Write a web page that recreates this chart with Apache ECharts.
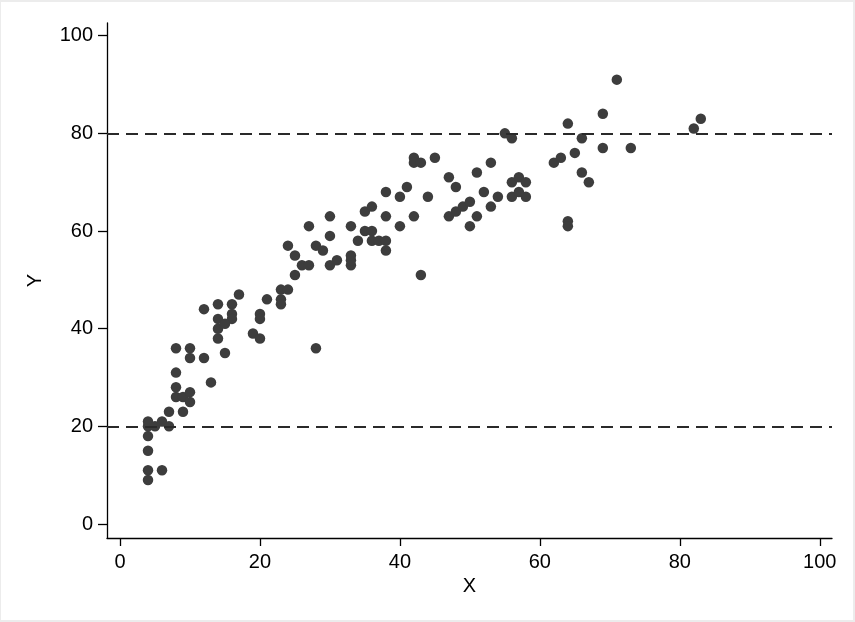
<!DOCTYPE html>
<html>
<head>
<meta charset="utf-8">
<title>Scatter</title>
<script src="https://cdn.jsdelivr.net/npm/echarts@6/dist/echarts.min.js"></script>
<style>
    html, body { margin: 0; padding: 0; background: #fff; }
    #myChart {
        width: 855px; height: 622px; box-sizing: border-box;
        border-top: 2px solid #ececec; border-left: 1px solid #ececec;
        border-right: 2px solid #ececec; border-bottom: 2px solid #ececec;
    }
</style>
</head>
<body>
<div id="myChart"></div>
<script>
// points, as [x, y]
var pts_low = [
    [4, 9], [4, 11], [6, 11], [4, 15], [4, 18], [4, 20], [4, 21], [5, 20], [6, 21], [7, 20],
    [7, 23], [9, 23], [8, 26], [9, 26], [10, 27], [10, 25], [8, 28], [8, 31], [13, 29], [8, 36],
    [10, 36], [10, 34], [12, 34], [15, 35], [12, 44], [14, 45], [16, 45], [16, 43], [16, 42], [14, 42],
    [14, 40], [15, 41], [14, 38], [17, 47], [19, 39], [20, 38], [20, 43], [20, 42], [21, 46]
];
var pts_mid = [
    [23, 48], [23, 46], [23, 45], [24, 48], [25, 51], [26, 53], [27, 53], [25, 55], [24, 57], [27, 61],
    [28, 57], [29, 56], [30, 53], [31, 54], [30, 59], [30, 63], [33, 53], [33, 54], [33, 55], [33, 61],
    [34, 58], [35, 60], [36, 60], [36, 58], [37, 58], [38, 58], [38, 56], [35, 64], [36, 65], [38, 63],
    [38, 68], [40, 67], [41, 69], [40, 61], [42, 63], [43, 51], [44, 67], [28, 36]
];
var pts_high = [
    [42, 75], [42, 74], [43, 74], [45, 75], [47, 71], [48, 69], [51, 72], [53, 74], [47, 63], [48, 64],
    [49, 65], [50, 66], [50, 61], [51, 63], [52, 68], [53, 65], [54, 67], [56, 70], [56, 67], [57, 71],
    [58, 70], [58, 67], [57, 68], [55, 80], [56, 79],
    [62, 74], [63, 75], [64, 82], [65, 76], [66, 79], [66, 72], [67, 70], [64, 62], [64, 61], [69, 77],
    [73, 77], [69, 84], [71, 91], [82, 81], [83, 83]
];
var x_ticks = [0, 20, 40, 60, 80, 100];
var y_ticks = [0, 20, 40, 60, 80, 100];
var ref_lines = [20, 80];

var myChart = echarts.init(document.getElementById('myChart'));
var font = 'Liberation Sans, Arial, sans-serif';

var marks = [];
for (var i = 0; i < ref_lines.length; i++) {
    marks.push({ yAxis: ref_lines[i] });
}

var option = {
    animation: false,
    backgroundColor: '#fff',
    grid: { left: 106, right: 21, top: 21, bottom: 82 },
    xAxis: {
        type: 'value',
        min: -1.86,
        max: 101.75,
        name: 'X',
        nameLocation: 'middle',
        nameGap: 33,
        nameTextStyle: { fontFamily: font, fontSize: 20, color: '#000' },
        axisLine: { show: true, onZero: false, lineStyle: { color: '#000', width: 1.3 } },
        axisTick: { show: true, length: 8, customValues: x_ticks, lineStyle: { color: '#000', width: 1.3 } },
        axisLabel: { customValues: x_ticks, margin: 14, fontFamily: font, fontSize: 20, color: '#000' },
        splitLine: { show: false }
    },
    yAxis: {
        type: 'value',
        min: -2.87,
        max: 102.6,
        name: 'Y',
        nameLocation: 'middle',
        nameGap: 62,
        nameTextStyle: { fontFamily: font, fontSize: 20, color: '#000' },
        axisLine: { show: true, onZero: false, lineStyle: { color: '#000', width: 1.3 } },
        axisTick: { show: true, length: 9, customValues: y_ticks, lineStyle: { color: '#000', width: 1.3 } },
        axisLabel: { customValues: y_ticks, margin: 14, fontFamily: font, fontSize: 20, color: '#000' },
        splitLine: { show: false }
    },
    series: [{
        type: 'scatter',
        symbol: 'circle',
        symbolSize: 10.5,
        itemStyle: { color: '#3d3d3d', opacity: 1 },
        data: pts_low.concat(pts_mid, pts_high),
        markLine: {
            silent: true,
            symbol: ['none', 'none'],
            label: { show: false },
            lineStyle: { color: '#2a2a2a', width: 2, type: [12, 7] },
            data: marks
        }
    }]
};
myChart.setOption(option);
</script>
</body>
</html>
